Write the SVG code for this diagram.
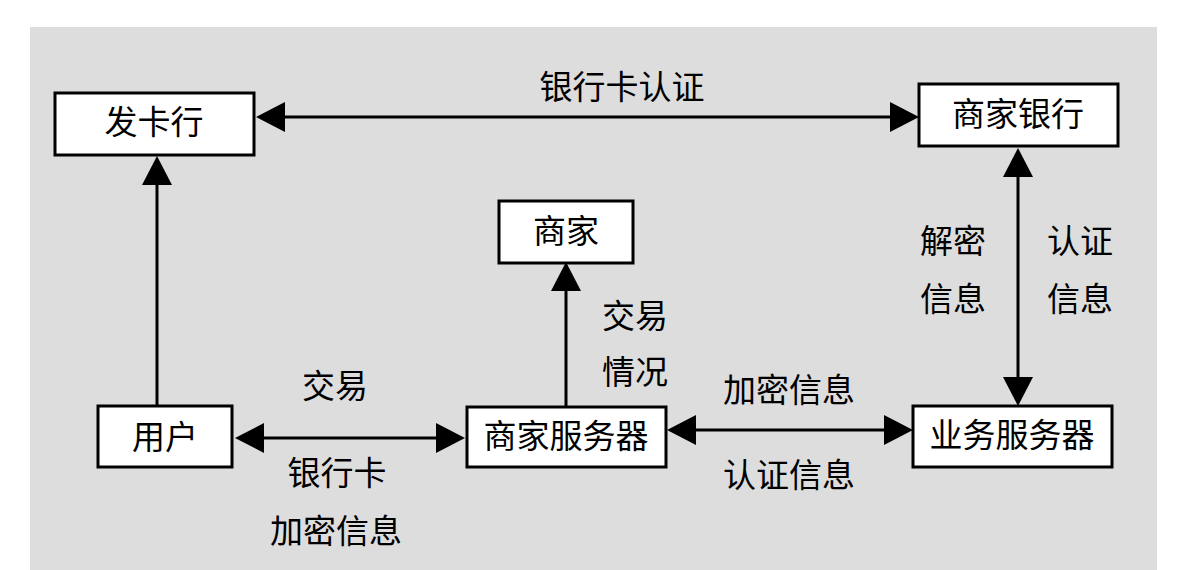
<svg xmlns="http://www.w3.org/2000/svg" width="1181" height="570" viewBox="0 0 1181 570">
<style>
.bg{fill:#dddddd}
.box{fill:#ffffff;stroke:#000000;stroke-width:3}
.t{font-family:"Liberation Serif","Noto Sans CJK SC",serif;font-size:33px;fill:#000000;text-anchor:middle;dominant-baseline:central}
.e{stroke:#000000;stroke-width:3;fill:none}
</style>
<defs>
<marker id="ah" markerUnits="userSpaceOnUse" markerWidth="30" markerHeight="30" viewBox="0 0 29 30" refX="0" refY="15" orient="auto-start-reverse">
<path d="M0,0 L29,15 L0,30 Z" fill="#000000"/>
</marker>
</defs>
<rect class="bg" x="30" y="27" width="1127" height="543"/>
<g id="connectors">
<line class="e" x1="285" y1="117" x2="890" y2="117" marker-start="url(#ah)" marker-end="url(#ah)"/>
<line class="e" x1="157" y1="406" x2="157" y2="185" marker-end="url(#ah)"/>
<line class="e" x1="264" y1="438" x2="436" y2="438" marker-start="url(#ah)" marker-end="url(#ah)"/>
<line class="e" x1="566" y1="407" x2="566" y2="291" marker-end="url(#ah)"/>
<line class="e" x1="696" y1="430" x2="884" y2="430" marker-start="url(#ah)" marker-end="url(#ah)"/>
<line class="e" x1="1018" y1="177" x2="1018" y2="377" marker-start="url(#ah)" marker-end="url(#ah)"/>
<text class="t" x="622" y="88">银行卡认证</text>
<text class="t" x="335" y="387">交易</text>
<text class="t" x="337" y="474">银行卡</text>
<text class="t" x="336" y="532">加密信息</text>
<text class="t" x="635" y="317">交易</text>
<text class="t" x="635" y="373">情况</text>
<text class="t" x="789" y="391">加密信息</text>
<text class="t" x="789" y="476">认证信息</text>
<text class="t" x="953" y="242">解密</text>
<text class="t" x="953" y="300">信息</text>
<text class="t" x="1080" y="242">认证</text>
<text class="t" x="1080" y="300">信息</text>
</g>
<g id="n-fakahang">
<rect class="box" x="55" y="93" width="199" height="62"/>
<text class="t" x="154" y="123">发卡行</text>
</g>
<g id="n-shangjiayinhang">
<rect class="box" x="919" y="84" width="199" height="62"/>
<text class="t" x="1018" y="115">商家银行</text>
</g>
<g id="n-shangjia">
<rect class="box" x="499" y="201" width="134" height="62"/>
<text class="t" x="566" y="232">商家</text>
</g>
<g id="n-yonghu">
<rect class="box" x="98" y="406" width="134" height="61"/>
<text class="t" x="165" y="438">用户</text>
</g>
<g id="n-shangjiafuwuqi">
<rect class="box" x="467" y="407" width="199" height="60"/>
<text class="t" x="566" y="437">商家服务器</text>
</g>
<g id="n-yewufuwuqi">
<rect class="box" x="913" y="406" width="199" height="61"/>
<text class="t" x="1012" y="436">业务服务器</text>
</g>
</svg>
